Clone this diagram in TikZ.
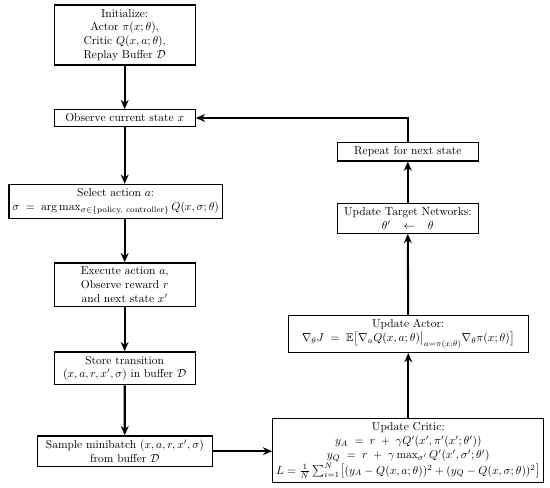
\documentclass[tikz,border=0pt]{standalone}
\usepackage{amsmath,amssymb}
\usetikzlibrary{arrows.meta}
\begin{document}
\begin{tikzpicture}[x=0.87pt,y=-0.87pt,
  box/.style={draw, line width=1.1pt, align=center, inner xsep=3pt, inner ysep=3.5pt},
  fixbox/.style={box, minimum width=122.7pt},
  flow/.style={line width=1.8pt, -{Stealth[length=8pt,width=6.8pt,inset=2.5pt]}}]
\useasboundingbox (0,0) rectangle (550,488);
\node[fixbox] (init) at (124.7,35) {Initialize:\\ Actor $\pi(x;\theta)$,\\ Critic $Q(x,a;\theta)$,\\ Replay Buffer $\mathcal{D}$};
\node[fixbox] (obs) at (124.7,118) {Observe current state $x$};
\node[box] (sel) at (115.7,201.5) {Select action $a$:\\ $\sigma \;=\; \arg\max_{\sigma\in\{\text{policy, controller}\}} Q(x,\sigma;\theta)$};
\node[fixbox] (exec) at (124.7,284.7) {Execute action $a$,\\ Observe reward $r$\\ and next state $x'$};
\node[fixbox] (store) at (124.7,368.3) {Store transition\\ $(x,a,r,x',\sigma)$ in buffer $\mathcal{D}$};
\node[box, minimum width=152.3pt] (sample) at (124.8,451.2) {Sample minibatch $(x,a,r,x',\sigma)$\\ from buffer $\mathcal{D}$};
\node[box] (critic) at (408.3,450.5) {Update Critic:\\
  $y_A \;=\; r \;+\; \gamma Q'(x',\pi'(x';\theta'))$\\
  $y_Q \;=\; r \;+\; \gamma \max_{\sigma'} Q'(x',\sigma';\theta')$\\
  $L=\frac{1}{N}\sum_{i=1}^{N}\bigl[(y_A-Q(x,a;\theta))^2+(y_Q-Q(x,\sigma;\theta))^2\bigr]$};
\node[box, minimum width=208.8pt] (actor) at (408.2,334) {Update Actor:\\ $\nabla_\theta J \;=\; \mathbb{E}\bigl[\nabla_a Q(x,a;\theta)\bigr|_{a=\pi(x;\theta)}\nabla_\theta\pi(x;\theta)\bigr]$};
\node[fixbox] (target) at (407.8,218.3) {Update Target Networks:\\ $\theta'\;\;\;\leftarrow\;\;\;\theta$};
\node[fixbox] (repeat) at (407.8,151.7) {Repeat for next state};
\draw[flow] (init) -- (obs);
\draw[flow] (obs.south) -- (obs.south |- sel.north);
\draw[flow] (obs.south |- sel.south) -- (exec.north);
\draw[flow] (exec) -- (store);
\draw[flow] (store) -- (sample);
\draw[flow] (sample.east) -- (critic.west |- sample.east);
\draw[flow] (critic.north) -- (critic.north |- actor.south);
\draw[flow] (actor.north) -- (target.south);
\draw[flow] (target) -- (repeat);
\draw[flow] (repeat.north) |- (obs.east);
\end{tikzpicture}
\end{document}
